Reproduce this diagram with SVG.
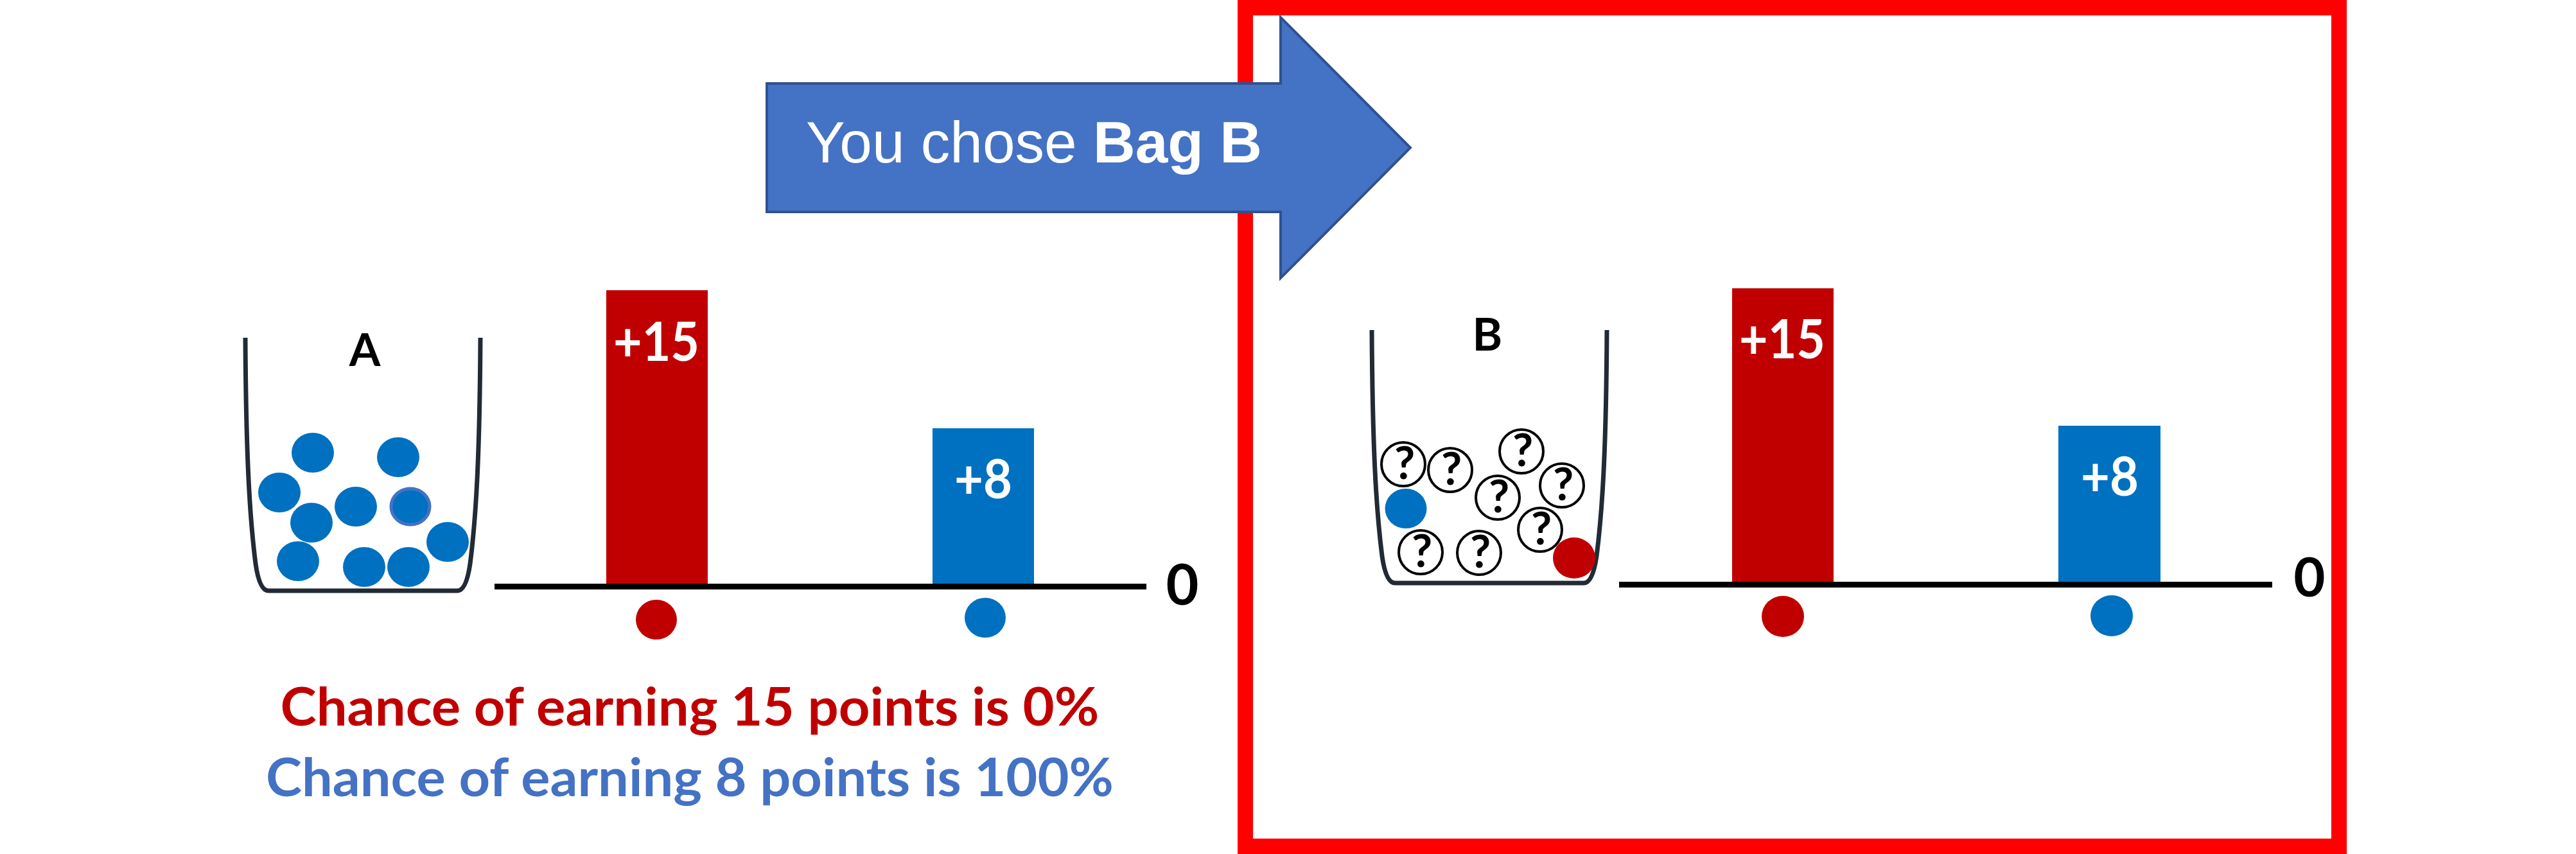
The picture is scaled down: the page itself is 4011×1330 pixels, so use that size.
<svg xmlns="http://www.w3.org/2000/svg" width="4011" height="1330" viewBox="0 0 4011 1330">
<style>
.bag{fill:none;stroke:#222a35;stroke-width:7;stroke-linejoin:round;stroke-linecap:butt}
.blue{fill:#0070c0}
.red{fill:#c00000}
.axis{stroke:#000;stroke-width:9}
.lbl{font-family:Lato,"Liberation Sans",sans-serif;font-weight:bold;text-anchor:middle}
.wt{fill:#fff}
.q{fill:#fff;stroke:#000;stroke-width:4}
.qt{font-family:Lato,"Liberation Sans",sans-serif;font-weight:bold;font-size:70px;text-anchor:middle;fill:#000}
</style>
<rect x="0" y="0" width="4011" height="1330" fill="#fff"/>

<g id="frame">
<rect x="1939" y="12" width="1703" height="1306" fill="none" stroke="#ff0000" stroke-width="24"/>
</g>

<g id="connectors">
<g id="arrow">
<polygon points="1194,130 1994,130 1994,27 2196,230 1994,433 1994,330 1194,330" fill="#4472c4" stroke="#2f528f" stroke-width="4"/>
<text x="1255" y="253" font-family="'Liberation Sans',Arial,sans-serif" font-size="91" fill="#fff">You chose <tspan font-weight="bold">Bag B</tspan></text>
</g>
</g>

<g id="bagA">
<path class="bag" d="M382,526 C383,700 388,800 398,878 Q404,920 418,920 L712,920 Q726,920 732,878 C742,800 747,700 748,526"/>
<text class="lbl" x="568" y="570" font-size="70" fill="#000">A</text>
<ellipse class="blue" cx="487" cy="705" rx="33" ry="31"/>
<ellipse class="blue" cx="620" cy="712" rx="33" ry="31"/>
<ellipse class="blue" cx="435" cy="767" rx="33" ry="31"/>
<ellipse class="blue" cx="485" cy="814" rx="33" ry="31"/>
<ellipse class="blue" cx="554" cy="789" rx="33" ry="31"/>
<ellipse class="blue" cx="639" cy="789" rx="30" ry="28" stroke="#4472c4" stroke-width="5"/>
<ellipse class="blue" cx="697" cy="844" rx="33" ry="31"/>
<ellipse class="blue" cx="464" cy="874" rx="33" ry="31"/>
<ellipse class="blue" cx="567" cy="883" rx="33" ry="31"/>
<ellipse class="blue" cx="636" cy="883" rx="33" ry="31"/>
</g>

<g id="chartA">
<rect class="red" x="944" y="452" width="158" height="462"/>
<rect class="blue" x="1452" y="667" width="158" height="247"/>
<line class="axis" x1="770" y1="913.5" x2="1785" y2="913.5"/>
<text class="lbl wt" x="1022" y="562" font-size="85" textLength="134" lengthAdjust="spacingAndGlyphs">+15</text>
<text class="lbl wt" x="1531" y="776" font-size="85" textLength="90" lengthAdjust="spacingAndGlyphs">+8</text>
<ellipse class="red" cx="1022" cy="965" rx="32" ry="31"/>
<ellipse class="blue" cx="1534" cy="962" rx="32" ry="31"/>
<text class="lbl" x="1841" y="942" font-size="88" fill="#000">0</text>
</g>

<g id="captionA">
<text class="lbl" x="1074" y="1130" font-size="83" fill="#c00000" textLength="1275" lengthAdjust="spacingAndGlyphs">Chance of earning 15 points is 0%</text>
<text class="lbl" x="1074" y="1240" font-size="83" fill="#4472c4" textLength="1320" lengthAdjust="spacingAndGlyphs">Chance of earning 8 points is 100%</text>
</g>

<g id="bagB">
<path class="bag" d="M2136,514 C2137,688 2142,788 2152,866 Q2158,908 2172,908 L2466,908 Q2480,908 2486,866 C2496,788 2501,688 2502,514"/>
<text class="lbl" x="2316" y="546" font-size="71" fill="#000">B</text>
<circle class="q" cx="2185" cy="723" r="34"/><text class="qt" x="2187" y="746">?</text>
<circle class="q" cx="2258" cy="732" r="34"/><text class="qt" x="2260" y="755">?</text>
<circle class="q" cx="2369" cy="703" r="34"/><text class="qt" x="2371" y="726">?</text>
<circle class="q" cx="2332" cy="775" r="34"/><text class="qt" x="2334" y="798">?</text>
<circle class="q" cx="2432" cy="756" r="34"/><text class="qt" x="2434" y="779">?</text>
<circle class="q" cx="2398" cy="825" r="34"/><text class="qt" x="2400" y="848">?</text>
<circle class="q" cx="2212" cy="860" r="34"/><text class="qt" x="2214" y="883">?</text>
<circle class="q" cx="2303" cy="861" r="34"/><text class="qt" x="2305" y="884">?</text>
<ellipse class="blue" cx="2189" cy="792" rx="32.5" ry="31"/>
<ellipse class="red" cx="2451" cy="869" rx="33" ry="32"/>
</g>

<g id="chartB">
<rect class="red" x="2697" y="449" width="158" height="462"/>
<rect class="blue" x="3205" y="663" width="159" height="248"/>
<line class="axis" x1="2521" y1="910.5" x2="3538" y2="910.5"/>
<text class="lbl wt" x="2775" y="558" font-size="85" textLength="134" lengthAdjust="spacingAndGlyphs">+15</text>
<text class="lbl wt" x="3285" y="772" font-size="85" textLength="90" lengthAdjust="spacingAndGlyphs">+8</text>
<ellipse class="red" cx="2776" cy="960" rx="33" ry="32"/>
<ellipse class="blue" cx="3288" cy="959" rx="33" ry="32"/>
<text class="lbl" x="3596" y="929" font-size="85" fill="#000">0</text>
</g>
</svg>
